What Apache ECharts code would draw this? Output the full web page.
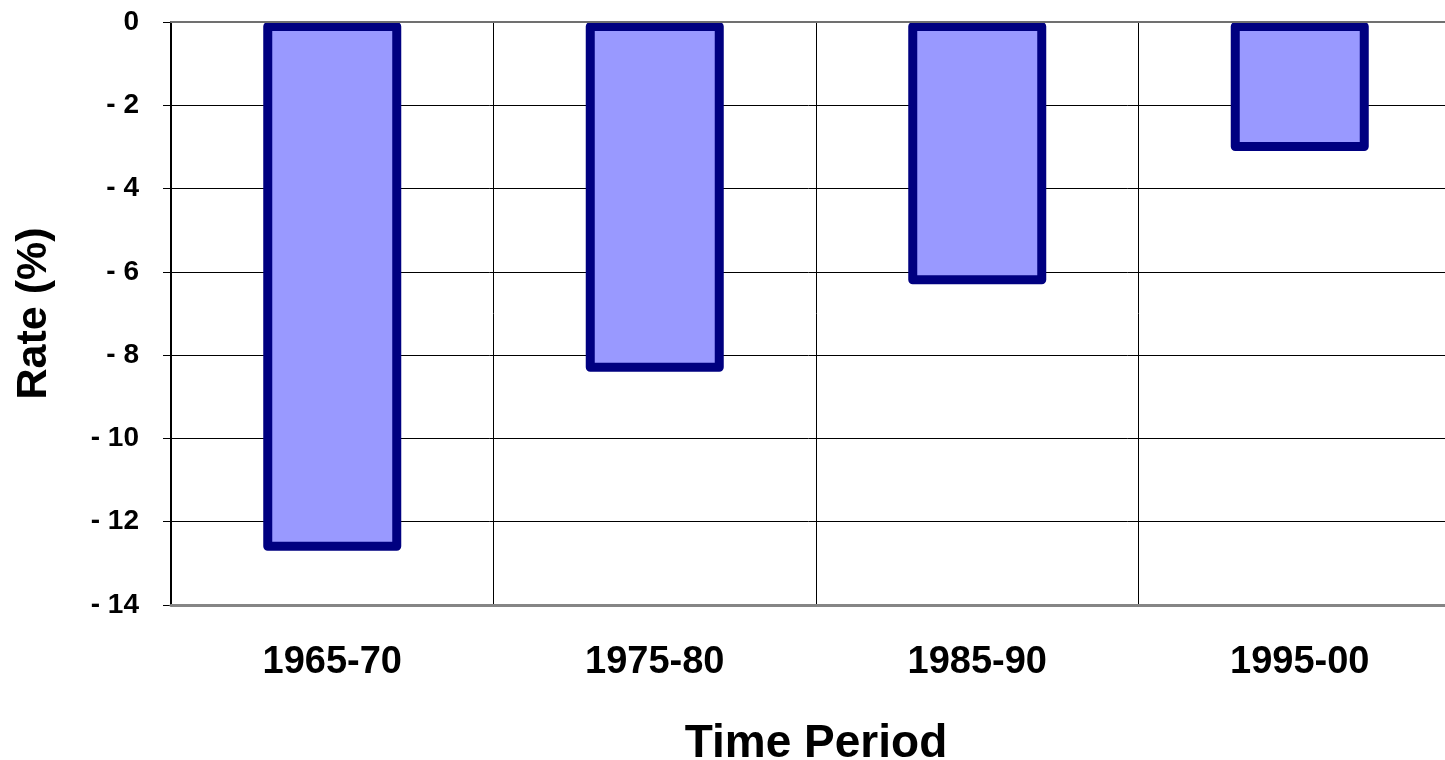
<!DOCTYPE html>
<html>
<head>
<meta charset="utf-8">
<script src="https://cdn.jsdelivr.net/npm/echarts@6/dist/echarts.min.js"></script>
<style>
html,body{margin:0;padding:0;background:#fff;overflow:hidden;}
#chart{width:1445px;height:760px;}
</style>
</head>
<body>
<div id="chart"></div>
<script>
var categories = ['1965-70', '1975-80', '1985-90', '1995-00'];
var rateValues = [-12.7, -8.4, -6.3, -3.1];
var yMin = -14, yMax = 0, yStep = 2;

var chart = echarts.init(document.getElementById('chart'), null, {renderer: 'canvas'});
var font = '"Liberation Sans", Arial, sans-serif';
chart.setOption({
  animation: false,
  backgroundColor: '#ffffff',
  grid: {left: 171, top: 22, width: 1290, bottom: 155, containLabel: false, outerBoundsMode: 'none'},
  xAxis: [{
    type: 'category',
    position: 'bottom',
    data: categories,
    boundaryGap: true,
    name: 'Time Period',
    nameLocation: 'middle',
    nameGap: 116,
    nameTextStyle: {fontFamily: font, fontWeight: 'bold', fontSize: 46, color: '#000'},
    axisLine: {show: true, onZero: false, lineStyle: {color: '#858585', width: 3}},
    axisTick: {show: false},
    axisLabel: {margin: 39, fontFamily: font, fontWeight: 'bold', fontSize: 38, color: '#000'},
    splitLine: {show: true, lineStyle: {color: '#000', width: 1}},
    z: 5
  }, {
    type: 'category',
    position: 'top',
    data: categories,
    axisLine: {show: true, onZero: false, lineStyle: {color: '#707070', width: 2}},
    axisTick: {show: false},
    axisLabel: {show: false},
    splitLine: {show: false},
    z: 5
  }],
  yAxis: {
    type: 'value',
    min: yMin,
    max: yMax,
    interval: yStep,
    name: 'Rate (%)',
    nameLocation: 'middle',
    nameGap: 115,
    nameTextStyle: {fontFamily: font, fontWeight: 'bold', fontSize: 43, color: '#000'},
    axisLine: {show: true, lineStyle: {color: '#000', width: 2}},
    axisTick: {show: true, inside: false, length: 8, lineStyle: {color: '#000', width: 1}},
    axisLabel: {
      margin: 32,
      fontFamily: font, fontWeight: 'bold', fontSize: 28, color: '#000',
      formatter: function (v) { return v < 0 ? '- ' + Math.abs(v) : String(v); }
    },
    splitLine: {show: true, lineStyle: {color: '#000', width: 1}}
  },
  series: [{
    type: 'bar',
    data: rateValues,
    xAxisIndex: 0,
    barWidth: 138,
    itemStyle: {color: '#9999FF', borderColor: '#000080', borderWidth: 9, borderJoin: 'round'},
    z: 2
  }]
});
</script>
</body>
</html>
